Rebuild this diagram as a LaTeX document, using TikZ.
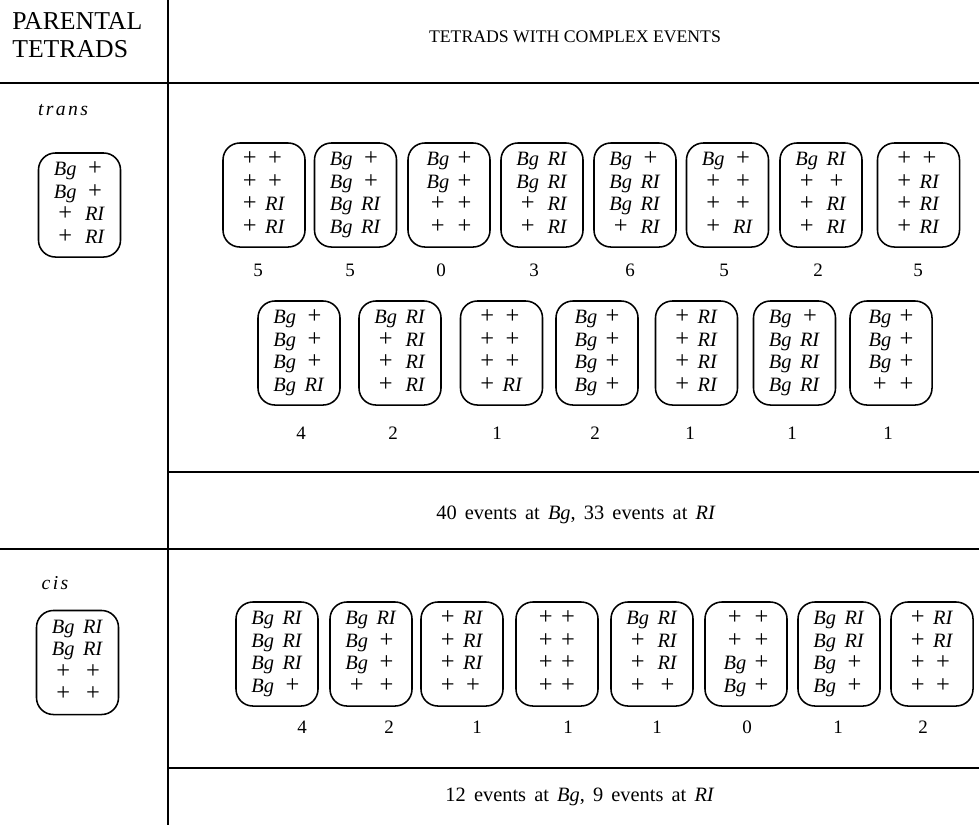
\documentclass[tikz,border=0pt]{standalone}
\usepackage{fontspec}
\setmainfont{Liberation Serif}
\newfontfamily\widefont[WordSpace=1.6]{Liberation Serif}
\newfontfamily\spacedfont[LetterSpace=12]{Liberation Serif}
\usetikzlibrary{positioning}
\newcommand{\Bg}{\textit{Bg}}
\newcommand{\RI}{\textit{RI}}
\newcommand{\wt}{\scalebox{1.2}{+}}
\newcommand{\tet}[4]{\begin{tabular}{@{}c@{\hspace{6pt}}c@{}}#1\\#2\\#3\\#4\end{tabular}}
\tikzset{
  tetbox/.style   = {draw, line width=1.1pt, rounded corners=12pt, inner sep=0pt,
                     minimum width=2.05cm, minimum height=2.6cm,
                     font=\fontsize{14.5}{16}\selectfont},
  tally/.style    = {font=\fontsize{13.5}{16}\selectfont},
  divider/.style  = {line width=1.1pt},
  headtext/.style = {font=\fontsize{18.3}{20}\selectfont, inner sep=0pt},
  toptext/.style  = {font=\fontsize{12.6}{15}\selectfont},
  sumtext/.style  = {font=\widefont\fontsize{14.5}{17}\selectfont},
  cross/.style    = {font=\spacedfont\fontsize{14}{17}\selectfont\itshape},
}

\begin{document}
\begin{tikzpicture}[x=0.025cm, y=-0.025cm]
  \useasboundingbox (0,0) rectangle (979,825);
  % table rules
  \draw[divider] (168,0) -- (168,825);
  \draw[divider] (0,83) -- (979,83);
  \draw[divider] (168,472) -- (979,472);
  \draw[divider] (0,549) -- (979,549);
  \draw[divider] (168,768) -- (979,768);
  % headings
  \node[headtext, align=left, anchor=north west] (hpar) at (12,12) {PARENTAL\\TETRADS};
  \node[toptext] (hcom) at (575,37) {TETRADS WITH COMPLEX EVENTS};
  % trans
  \node[cross] (trans) at (63,110) {trans};
  \node[tetbox] (tp) at (79.5,205) {\tet{\Bg & \wt}{\Bg & \wt}{\wt & \RI}{\wt & \RI}};
  \node[tetbox] (ta1) at (264,195) {\tet{\wt & \wt}{\wt & \wt}{\wt & \RI}{\wt & \RI}};
  \node[tetbox] (ta2) at (355.5,195) {\tet{\Bg & \wt}{\Bg & \wt}{\Bg & \RI}{\Bg & \RI}};
  \node[tetbox] (ta3) at (449,195) {\tet{\Bg & \wt}{\Bg & \wt}{\wt & \wt}{\wt & \wt}};
  \node[tetbox] (ta4) at (542,195) {\tet{\Bg & \RI}{\Bg & \RI}{\wt & \RI}{\wt & \RI}};
  \node[tetbox] (ta5) at (635,195) {\tet{\Bg & \wt}{\Bg & \RI}{\Bg & \RI}{\wt & \RI}};
  \node[tetbox] (ta6) at (727.5,195) {\tet{\Bg & \wt}{\wt & \wt}{\wt & \wt}{\wt & \RI}};
  \node[tetbox] (ta7) at (821,195) {\tet{\Bg & \RI}{\wt & \wt}{\wt & \RI}{\wt & \RI}};
  \node[tetbox] (ta8) at (918.5,195) {\tet{\wt & \wt}{\wt & \RI}{\wt & \RI}{\wt & \RI}};
  \node[tally] (na1) at (258,270) {5};
  \node[tally] (na2) at (350,270) {5};
  \node[tally] (na3) at (441,270) {0};
  \node[tally] (na4) at (534,270) {3};
  \node[tally] (na5) at (630,270) {6};
  \node[tally] (na6) at (724,270) {5};
  \node[tally] (na7) at (818,270) {2};
  \node[tally] (na8) at (918,270) {5};
  \node[tetbox] (tb1) at (299,353) {\tet{\Bg & \wt}{\Bg & \wt}{\Bg & \wt}{\Bg & \RI}};
  \node[tetbox] (tb2) at (400,353) {\tet{\Bg & \RI}{\wt & \RI}{\wt & \RI}{\wt & \RI}};
  \node[tetbox] (tb3) at (501.5,353) {\tet{\wt & \wt}{\wt & \wt}{\wt & \wt}{\wt & \RI}};
  \node[tetbox] (tb4) at (597,353) {\tet{\Bg & \wt}{\Bg & \wt}{\Bg & \wt}{\Bg & \wt}};
  \node[tetbox] (tb5) at (696.5,353) {\tet{\wt & \RI}{\wt & \RI}{\wt & \RI}{\wt & \RI}};
  \node[tetbox] (tb6) at (794.5,353) {\tet{\Bg & \wt}{\Bg & \RI}{\Bg & \RI}{\Bg & \RI}};
  \node[tetbox] (tb7) at (891,353) {\tet{\Bg & \wt}{\Bg & \wt}{\Bg & \wt}{\wt & \wt}};
  \node[tally] (nb1) at (301,433) {4};
  \node[tally] (nb2) at (393,433) {2};
  \node[tally] (nb3) at (497,433) {1};
  \node[tally] (nb4) at (595,433) {2};
  \node[tally] (nb5) at (690,433) {1};
  \node[tally] (nb6) at (792,433) {1};
  \node[tally] (nb7) at (888,433) {1};
  \node[sumtext] (stra) at (576,515) {40 events at \Bg, 33 events at \RI};
  % cis
  \node[cross] (cis) at (55,583) {cis};
  \node[tetbox] (cp) at (77.5,662.5) {\tet{\Bg & \RI}{\Bg & \RI}{\wt & \wt}{\wt & \wt}};
  \node[tetbox] (tc1) at (277,654) {\tet{\Bg & \RI}{\Bg & \RI}{\Bg & \RI}{\Bg & \wt}};
  \node[tetbox] (tc2) at (371,654) {\tet{\Bg & \RI}{\Bg & \wt}{\Bg & \wt}{\wt & \wt}};
  \node[tetbox] (tc3) at (462,654) {\tet{\wt & \RI}{\wt & \RI}{\wt & \RI}{\wt & \wt}};
  \node[tetbox] (tc4) at (557,654) {\tet{\wt & \wt}{\wt & \wt}{\wt & \wt}{\wt & \wt}};
  \node[tetbox] (tc5) at (652,654) {\tet{\Bg & \RI}{\wt & \RI}{\wt & \RI}{\wt & \wt}};
  \node[tetbox] (tc6) at (746,654) {\tet{\wt & \wt}{\wt & \wt}{\Bg & \wt}{\Bg & \wt}};
  \node[tetbox] (tc7) at (839,654) {\tet{\Bg & \RI}{\Bg & \RI}{\Bg & \wt}{\Bg & \wt}};
  \node[tetbox] (tc8) at (932,654) {\tet{\wt & \RI}{\wt & \RI}{\wt & \wt}{\wt & \wt}};
  \node[tally] (nc1) at (302,727) {4};
  \node[tally] (nc2) at (389,727) {2};
  \node[tally] (nc3) at (477,727) {1};
  \node[tally] (nc4) at (568,727) {1};
  \node[tally] (nc5) at (657,727) {1};
  \node[tally] (nc6) at (747,727) {0};
  \node[tally] (nc7) at (838,727) {1};
  \node[tally] (nc8) at (923,727) {2};
  \node[sumtext] (scis) at (580,797) {12 events at \Bg, 9 events at \RI};
\end{tikzpicture}
\end{document}
